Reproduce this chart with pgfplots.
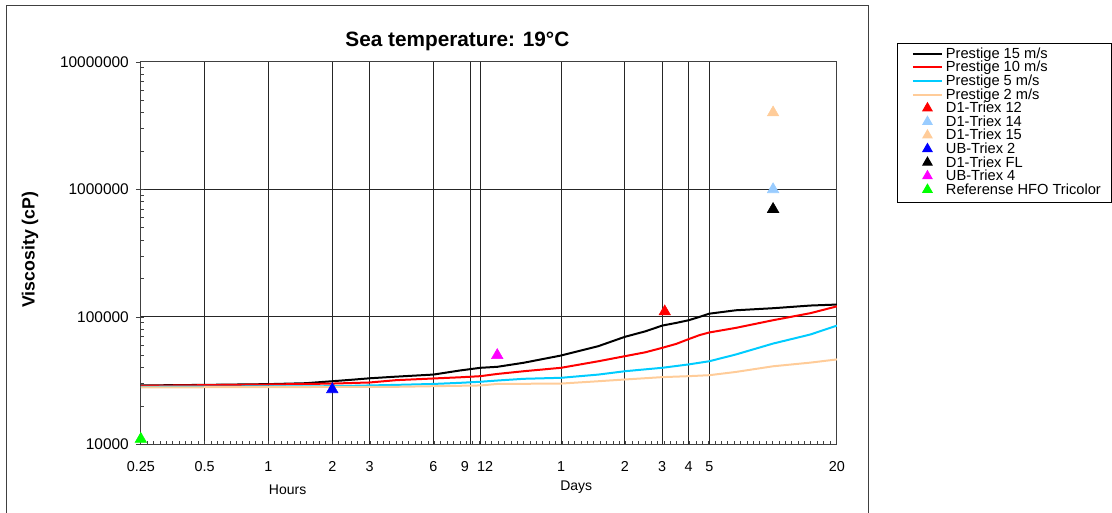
\documentclass[border=0pt]{standalone}
\usepackage{fontspec}
\setmainfont{Liberation Sans}
\usepackage{pgfplots}
\pgfplotsset{compat=1.18}

\definecolor{skyc}{RGB}{0,204,255}
\definecolor{tanc}{RGB}{255,204,153}
\definecolor{paleblue}{RGB}{153,204,255}
\definecolor{magc}{RGB}{255,0,255}
\definecolor{greenc}{RGB}{0,255,0}

% minor ticks along the time axis, ten per doubling
\def\minorx{0.25}
\foreach \k in {1,...,109}{%
  \pgfmathparse{0.25*2^(\k/10)}%
  \xdef\minorx{\minorx,\pgfmathresult}%
}

\begin{document}
\begin{tikzpicture}
\begin{scope}[x=0.75pt,y=-0.75pt]
\useasboundingbox (0,0) rectangle (1112,513);
\draw[line width=0.75pt, black!75] (7,520) -- (7,6) -- (870,6) -- (870,520);
\node[font=\bfseries\fontsize{15.6}{18}\selectfont] at (458,41) {Sea temperature: 19°C};
\node[font=\bfseries\fontsize{13.3}{16}\selectfont, rotate=90] at (30,250) {Viscosity (cP)};
\node[font=\fontsize{10.5}{12}\selectfont] at (288,490) {Hours};
\node[font=\fontsize{10.5}{12}\selectfont] at (577,488) {Days};
\end{scope}

\begin{axis}[
  at={(105.75pt,-333.75pt)}, anchor=south west,
  scale only axis, width=522.75pt, height=287.25pt,
  xmode=log, ymode=log,
  xmin=0.25, xmax=480, ymin=1e4, ymax=1e7,
  axis line style={black!75, line width=0.75pt},
  tick pos=left,
  tick align=inside,
  major tick length=0pt,
  minor tick length=2.5pt,
  every tick/.style={black!75, line width=0.6pt},
  xtick={0.25,0.5,1,2,3,6,9,10,24,48,72,96,120,480},
  xticklabels={0.25,0.5,1,2,3,6,\llap{9\hspace{1.5pt}},\rlap{\hspace*{-2.5pt}12},1,2,3,4,5,20},
  minor xtick/.expanded={\minorx},
  ytick={1e4,1e5,1e6,1e7},
  yticklabels={10000,100000,1000000,10000000},
  extra y ticks={1e4,1e5,1e6,1e7},
  extra y tick labels={},
  extra y tick style={tick align=outside, major tick length=3.75pt, grid=none},
  /pgf/number format/assume math mode=true,
  xticklabel style={font=\fontsize{10.8}{12}\selectfont, anchor=base, yshift=-20pt},
  yticklabel style={font=\fontsize{11.6}{13}\selectfont, anchor=east, xshift=-5.5pt},
  grid=major,
  major grid style={black!85, line width=0.75pt},
  legend style={at={(1.0861,1.0496)}, anchor=north west, draw=black, line width=0.75pt,
    font=\fontsize{11}{13}\selectfont, inner xsep=8pt, inner ysep=3.6pt,
    row sep=0pt, column sep=0pt,
    nodes={inner sep=0pt, text height=7.6pt, text depth=2.6pt, anchor=base west}},
  legend cell align=left,
  legend image code/.code={%
    \path (-3pt,0pt);
    \draw[mark repeat=2, mark phase=2, yshift=3.4pt, #1, mark size=4pt] plot coordinates {(0pt,0pt) (10.875pt,0pt) (21.75pt,0pt)};
    \path (24pt,0pt);},
]
% Prestige 15 m/s
\addplot[black, line width=1.5pt] coordinates {
  (0.25,29000) (0.5,29300) (1,29700) (1.5,30200) (2,31300) (2.5,32200) (3,33000)
  (4,34000) (6,35300) (8,38000) (10,39900) (12,40600) (16,43700) (24,49800)
  (36,59000) (48,69800) (60,77100) (72,85500) (84,89800) (96,94200) (108,100000)
  (120,106000) (160,112700) (240,117000) (360,122800) (480,125000)
};
% Prestige 10 m/s
\addplot[red, line width=1.5pt] coordinates {
  (0.25,28800) (1,29500) (2,30000) (3,30600) (4,31900) (6,32900) (8,33600)
  (10,34300) (12,35700) (16,37500) (24,39900) (36,44900) (48,49200) (60,52800)
  (72,57200) (84,61500) (96,67000) (108,72000) (120,75500) (160,82000)
  (240,94200) (360,107000) (480,121000)
};
% Prestige 5 m/s
\addplot[skyc, line width=1.5pt] coordinates {
  (0.25,28300) (2,28600) (4,29300) (6,29800) (8,30400) (10,31000) (12,31700)
  (16,32700) (24,33300) (36,35300) (48,37500) (72,39900) (96,42400) (120,44900)
  (160,50700) (240,61800) (360,72800) (480,85500)
};
% Prestige 2 m/s
\addplot[tanc, line width=1.5pt] coordinates {
  (0.25,28000) (4,28300) (10,29000) (12,29800) (24,30000) (36,31300) (48,32300)
  (72,33700) (96,34300) (120,34900) (160,37000) (240,41000) (360,43800) (480,46400)
};
\addplot[only marks, mark=triangle*, mark size=5pt, mark options={draw=red, fill=red}]
  coordinates {(74,110000)};
\addplot[only marks, mark=triangle*, mark size=5pt, mark options={draw=paleblue, fill=paleblue}]
  coordinates {(240,1000000)};
\addplot[only marks, mark=triangle*, mark size=5pt, mark options={draw=tanc, fill=tanc}]
  coordinates {(240,4000000)};
\addplot[only marks, mark=triangle*, mark size=5pt, mark options={draw=blue, fill=blue}]
  coordinates {(2,27000)};
\addplot[only marks, mark=triangle*, mark size=5pt, mark options={draw=black, fill=black}]
  coordinates {(240,700000)};
\addplot[only marks, mark=triangle*, mark size=5pt, mark options={draw=magc, fill=magc}]
  coordinates {(12,50000)};
\addplot[only marks, mark=triangle*, mark size=5pt, mark options={draw=greenc, fill=greenc}]
  coordinates {(0.25,11000)};
\legend{Prestige 15 m/s, Prestige 10 m/s, Prestige 5 m/s, Prestige 2 m/s,
  D1-Triex 12, D1-Triex 14, D1-Triex 15, UB-Triex 2, D1-Triex FL, UB-Triex 4,
  Referense HFO Tricolor}
\end{axis}
\end{tikzpicture}
\end{document}
